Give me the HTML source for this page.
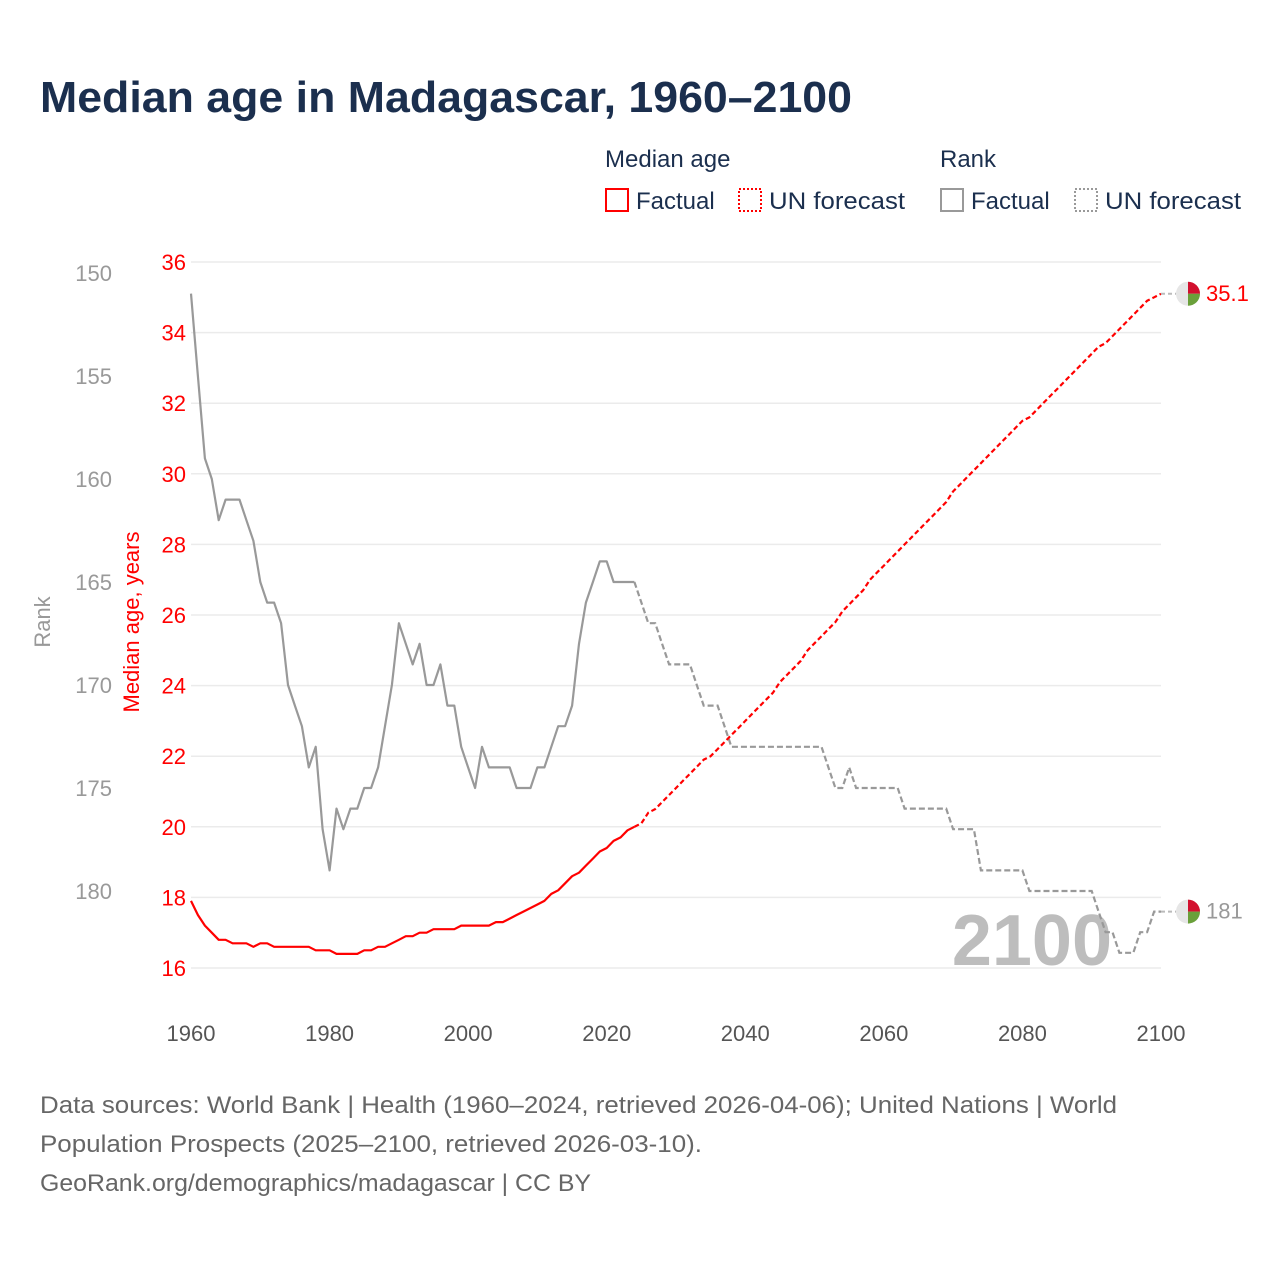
<!DOCTYPE html>
<html><head><meta charset="utf-8"><style>
body{margin:0;background:#fff;font-family:"Liberation Sans",sans-serif;}
svg text{font-family:"Liberation Sans",sans-serif;}
</style></head><body>
<svg id="chart" width="1280" height="1280" viewBox="0 0 1280 1280" xmlns="http://www.w3.org/2000/svg">
<rect width="1280" height="1280" fill="#fff"/>
<text x="40" y="112" font-size="44" font-weight="bold" fill="#1b2f4e" textLength="812" lengthAdjust="spacingAndGlyphs">Median age in Madagascar, 1960–2100</text>
<g font-size="24" fill="#1b2f4e">
<text x="605" y="167">Median age</text>
<text x="940" y="167">Rank</text>
<g><rect x="606" y="189" width="22" height="22" fill="none" stroke="#f00" stroke-width="2"/><text x="636" y="209">Factual</text></g>
<g><rect x="739" y="189" width="22" height="22" fill="none" stroke="#f00" stroke-width="2" stroke-dasharray="2,2"/><text x="769" y="209" textLength="136" lengthAdjust="spacingAndGlyphs">UN forecast</text></g>
<g><rect x="941" y="189" width="22" height="22" fill="none" stroke="#999" stroke-width="2"/><text x="971" y="209">Factual</text></g>
<g><rect x="1075" y="189" width="22" height="22" fill="none" stroke="#999" stroke-width="2" stroke-dasharray="2,2"/><text x="1105" y="209" textLength="136" lengthAdjust="spacingAndGlyphs">UN forecast</text></g>
</g>
<g id="grid"></g>
<g id="axes"></g>
<text x="1112" y="965" font-size="72" font-weight="bold" fill="#bdbdbd" text-anchor="end">2100</text>
<g id="series"></g>
<text transform="translate(50,622) rotate(-90)" font-size="22" fill="#999" text-anchor="middle">Rank</text>
<text transform="translate(139,622) rotate(-90)" font-size="22" fill="#f00" text-anchor="middle">Median age, years</text>
<g font-size="24" fill="#666">
<text x="40" y="1113" textLength="1077" lengthAdjust="spacingAndGlyphs">Data sources: World Bank | Health (1960–2024, retrieved 2026-04-06); United Nations | World</text>
<text x="40" y="1152" textLength="662" lengthAdjust="spacingAndGlyphs">Population Prospects (2025–2100, retrieved 2026-03-10).</text>
<text x="40" y="1191" textLength="551" lengthAdjust="spacingAndGlyphs">GeoRank.org/demographics/madagascar | CC BY</text>
</g>
</svg>
<script>
const factualYears=[1960,2024];
const forecastYears=[2024,2100];
const ageFactual=[17.9,17.5,17.2,17.0,16.8,16.8,16.7,16.7,16.7,16.6,16.7,16.7,16.6,16.6,16.6,16.6,16.6,16.6,16.5,16.5,16.5,16.4,16.4,16.4,16.4,16.5,16.5,16.6,16.6,16.7,16.8,16.9,16.9,17.0,17.0,17.1,17.1,17.1,17.1,17.2,17.2,17.2,17.2,17.2,17.3,17.3,17.4,17.5,17.6,17.7,17.8,17.9,18.1,18.2,18.4,18.6,18.7,18.9,19.1,19.3,19.4,19.6,19.7,19.9,20.0];
const ageForecast=[20.0,20.1,20.4,20.5,20.7,20.9,21.1,21.3,21.5,21.7,21.9,22.0,22.2,22.4,22.6,22.8,23.0,23.2,23.4,23.6,23.8,24.1,24.3,24.5,24.7,25.0,25.2,25.4,25.6,25.8,26.1,26.3,26.5,26.7,27.0,27.2,27.4,27.6,27.8,28.0,28.2,28.4,28.6,28.8,29.0,29.2,29.5,29.7,29.9,30.1,30.3,30.5,30.7,30.9,31.1,31.3,31.5,31.6,31.8,32.0,32.2,32.4,32.6,32.8,33.0,33.2,33.4,33.6,33.7,33.9,34.1,34.3,34.5,34.7,34.9,35.0,35.1];
const rankFactual=[151,155,159,160,162,161,161,161,162,163,165,166,166,167,170,171,172,174,173,177,179,176,177,176,176,175,175,174,172,170,167,168,169,168,170,170,169,171,171,173,174,175,173,174,174,174,174,175,175,175,174,174,173,172,172,171,168,166,165,164,164,165,165,165,165];
const rankForecast=[165,166,167,167,168,169,169,169,169,170,171,171,171,172,173,173,173,173,173,173,173,173,173,173,173,173,173,173,174,175,175,174,175,175,175,175,175,175,175,176,176,176,176,176,176,176,177,177,177,177,179,179,179,179,179,179,179,180,180,180,180,180,180,180,180,180,180,181,182,182,183,183,183,182,182,181,181];
const xTicks=[1960,1980,2000,2020,2040,2060,2080,2100];
const ageTicks=[16,18,20,22,24,26,28,30,32,34,36];
const rankTicks=[150,155,160,165,170,175,180];

const NS="http://www.w3.org/2000/svg";
const X=y=>191+(y-1960)*(970/140);
const YA=a=>262+(36-a)*(706/20);
const YR=r=>273+(r-150)*20.6;
function el(tag,attrs,parent,txt){const e=document.createElementNS(NS,tag);for(const k in attrs)e.setAttribute(k,attrs[k]);if(txt!==undefined)e.textContent=txt;parent.appendChild(e);return e;}
const grid=document.getElementById('grid'),axes=document.getElementById('axes'),series=document.getElementById('series');
ageTicks.forEach(t=>{
 const l=el('line',{x1:191,x2:1161,y1:YA(t),y2:YA(t),stroke:'#ebebeb','stroke-width':1.5},grid);
 
 
 const tx=el('text',{x:186,y:YA(t)+8,'font-size':22,fill:'#f00','text-anchor':'end'},axes,String(t));
 
 
});
rankTicks.forEach(t=>{
 const tx=el('text',{x:112,y:YR(t)+8,'font-size':22,fill:'#999','text-anchor':'end'},axes,String(t));
 
 
});
xTicks.forEach(t=>{
 const tx=el('text',{x:X(t),y:1041,'font-size':22,fill:'#555','text-anchor':'middle'},axes,String(t));
 
 
});
function pts(start,vals,f){return vals.map((v,i)=>X(start+i).toFixed(1)+','+f(v).toFixed(1)).join(' ');}
let p;
p=el('polyline',{points:pts(factualYears[0],rankFactual,YR),fill:'none',stroke:'#999','stroke-width':2.2,'stroke-linejoin':'round'},series);


p=el('polyline',{points:pts(forecastYears[0],rankForecast,YR),fill:'none',stroke:'#999','stroke-width':2.2,'stroke-dasharray':'6,3'},series);


p=el('polyline',{points:pts(factualYears[0],ageFactual,YA),fill:'none',stroke:'#f00','stroke-width':2.2,'stroke-linejoin':'round'},series);


p=el('polyline',{points:pts(forecastYears[0],ageForecast,YA),fill:'none',stroke:'#f00','stroke-width':2.2,'stroke-dasharray':'5,3'},series);


function marker(y,label,color,name){
 const g=el('g',{},series);
 
 
 el('line',{x1:1161,x2:1176,y1:y,y2:y,stroke:'#bbb','stroke-width':2,'stroke-dasharray':'4,3'},g);
 const cx=1188,r=12;
 el('circle',{cx:cx,cy:y,r:r,fill:'#e6e6e6'},g);
 el('path',{d:`M${cx},${y} L${cx},${y-r} A${r},${r} 0 0 1 ${cx+r},${y} Z`,fill:'#d2102e'},g);
 el('path',{d:`M${cx},${y} L${cx+r},${y} A${r},${r} 0 0 1 ${cx},${y+r} Z`,fill:'#6aa03a'},g);
 el('text',{x:1206,y:y+7,'font-size':22,fill:color},g,label);
}
marker(YA(ageForecast[ageForecast.length-1]),String(ageForecast[ageForecast.length-1]),'#f00','age-end-marker');
marker(YR(rankForecast[rankForecast.length-1]),String(rankForecast[rankForecast.length-1]),'#999','rank-end-marker');
</script>
</body></html>
